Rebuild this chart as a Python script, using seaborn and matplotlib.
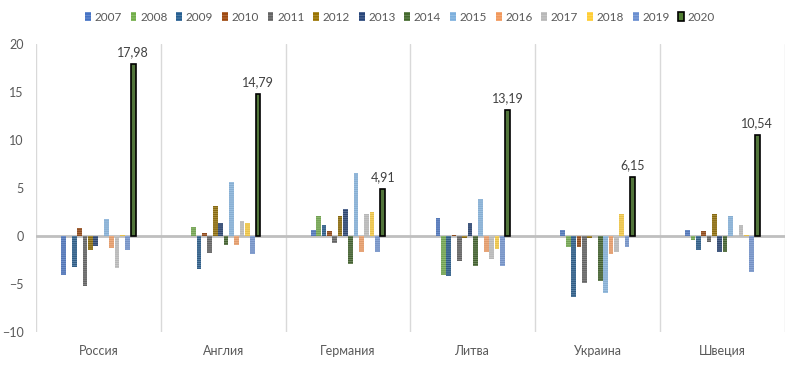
"""
Grouped bar chart: yearly values per country, 2007-2020.
"""
import pandas as pd
import seaborn as sns
import matplotlib
from matplotlib import pyplot as plt
from matplotlib.patches import Patch
import matplotlib.colors as mcolors
matplotlib.use('Agg')

countries = ['Россия', 'Англия', 'Германия', 'Литва', 'Украина', 'Швеция']
years = [str(y) for y in range(2007, 2021)]

# values per country, one entry per year 2007..2020
russia = [-4.0, 0.0, -3.26, 0.8, -5.2, -1.4, -1.04, 0.0, 1.74, -1.25, -3.33, 0.17, -1.46, 17.98]
england = [0.0, 1.0, -3.44, 0.38, -1.8, 3.09, 1.42, -0.97, 5.59, -0.97, 1.63, 1.42, -1.9, 14.79]
germany = [0.69, 2.05, 1.2, 0.49, -0.76, 2.05, 2.78, -2.85, 6.53, -1.6, 2.36, 2.47, -1.6, 4.91]
lithuania = [1.84, -4.0, -4.1, 0.17, -2.64, -0.2, 1.42, -3.16, 3.92, -1.6, -2.33, -1.39, -3.06, 13.19]
ukraine = [0.59, -1.08, -6.39, -1.18, -4.83, -0.2, 0.0, -4.62, -5.97, -1.9, -1.7, 2.36, -1.18, 6.15]
sweden = [0.59, -0.35, -1.49, 0.49, -0.66, 2.26, -1.7, -1.6, 2.15, 0.0, 1.11, 0.17, -3.78, 10.54]

colors = ['#4472C4', '#70AD47', '#255E91', '#9E480E', '#636363', '#997300', '#264478',
          '#43682B', '#7CAFDD', '#F1975A', '#B7B7B7', '#FFCD33', '#698ED0', '#507E32']

rows = []
for c, vals in zip(countries, [russia, england, germany, lithuania, ukraine, sweden]):
    for y, v in zip(years, vals):
        rows.append({'country': c, 'year': y, 'value': v})
df = pd.DataFrame(rows)

sns.set_style("white")
plt.rcParams['font.family'] = ['Lato', 'DejaVu Sans']
plt.rcParams['hatch.linewidth'] = 0.5
grey = '#595959'


def lighten(col, f=0.3):
    r, g, b = mcolors.to_rgb(col)
    return (r + (1 - r) * f, g + (1 - g) * f, b + (1 - b) * f)


fig = plt.figure(figsize=(8, 3.65), dpi=100)
ax = fig.add_axes([0.045, 0.09, 0.936, 0.789])

sns.barplot(data=df, x='country', y='value', hue='year', palette=colors,
            width=0.6, gap=0.12, legend=False, ax=ax, zorder=3)

for i, cont in enumerate(ax.containers):
    for bar in cont:
        if years[i] == '2020':
            bar.set_edgecolor('black')
            bar.set_linewidth(1.2)
        else:
            bar.set_hatch('--------')
            bar.set_edgecolor(lighten(colors[i]))
            bar.set_linewidth(0)

# data labels for the last year
last = ax.containers[-1]
labels = [f"{v:.2f}".replace('.', ',') for v in df[df.year == '2020'].value]
ax.bar_label(last, labels=labels, padding=4, fontsize=9, color='#404040')

ax.set_ylim(-10, 20)
ax.set_yticks(range(-10, 21, 5))
ax.set_xlim(-0.5, 5.5)
for x in [i - 0.5 for i in range(7)]:
    ax.axvline(x, color='#D9D9D9', lw=1, zorder=1)
ax.axhline(0, color='#BFBFBF', lw=2, zorder=2)

for s in ax.spines.values():
    s.set_visible(False)
ax.tick_params(axis='both', length=0, colors=grey, labelsize=9)
ax.tick_params(axis='y', pad=9)
ax.tick_params(axis='x', pad=9)
ax.set_xlabel('')
ax.set_ylabel('')

handles = []
for i, y in enumerate(years):
    if y == '2020':
        handles.append(Patch(facecolor=colors[i], edgecolor='black', linewidth=1.2, label=y))
    else:
        handles.append(Patch(facecolor=colors[i], edgecolor=lighten(colors[i]),
                             hatch='------', linewidth=0, label=y))
fig.legend(handles=handles, loc='center', bbox_to_anchor=(0.5, 0.953), ncol=14,
           frameon=False, fontsize=8.5, handlelength=0.5, handleheight=0.8,
           handletextpad=0.3, columnspacing=0.75, labelcolor=grey)

fig.savefig('out.png', dpi=100)
